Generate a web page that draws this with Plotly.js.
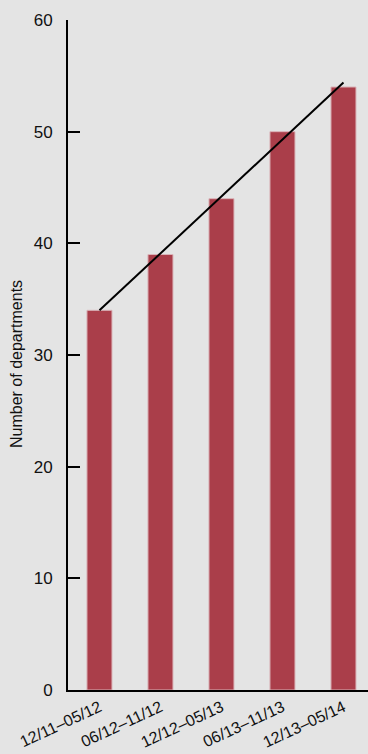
<!DOCTYPE html>
<html>
<head>
<meta charset="utf-8">
<script src="https://cdn.plot.ly/plotly-3.0.1.min.js"></script>
<style>
  html, body { margin: 0; padding: 0; background: #e4e4e4; }
  #chart { width: 368px; height: 754px; }
</style>
</head>
<body>
<div id="chart"></div>
<script>
// Reporting periods and number of departments per period
const periods = ['12/11\u201305/12', '06/12\u201311/12', '12/12\u201305/13', '06/13\u201311/13', '12/13\u201305/14'];
const departments = [34, 39, 44, 50, 54];
const yTicks = [0, 10, 20, 30, 40, 50, 60];

// Least-squares trend across the periods
function linearTrend(values) {
  const n = values.length;
  const xs = values.map((_, i) => i);
  const mx = xs.reduce((a, b) => a + b, 0) / n;
  const my = values.reduce((a, b) => a + b, 0) / n;
  let num = 0, den = 0;
  xs.forEach((x, i) => { num += (x - mx) * (values[i] - my); den += (x - mx) * (x - mx); });
  const slope = num / den;
  return xs.map(x => my + slope * (x - mx));
}
const trend = linearTrend(departments);

const fontFamily = '"Liberation Sans", Arial, sans-serif';
const yTickFont = { family: fontFamily, size: 17, color: '#111' };
const xTickFont = { family: fontFamily, size: 16, color: '#111' };

const bars = {
  type: 'bar',
  x: periods,
  y: departments,
  width: 0.41,
  marker: { color: '#aa3e4a', line: { color: '#d9b2b7', width: 1 } },
  hoverinfo: 'x+y'
};

const trendLine = {
  type: 'scatter',
  mode: 'lines',
  x: [periods[0], periods[periods.length - 1]],
  y: [trend[0], trend[trend.length - 1]],
  line: { color: '#000', width: 2 },
  hoverinfo: 'skip'
};

const layout = {
  width: 368,
  height: 754,
  paper_bgcolor: '#e4e4e4',
  plot_bgcolor: '#e4e4e4',
  showlegend: false,
  margin: { l: 68, r: 0, t: 20, b: 64, autoexpand: false },
  xaxis: {
    type: 'category',
    range: [-0.516, 4.402],
    showline: true,
    linecolor: '#000',
    linewidth: 2,
    ticks: '',
    tickangle: -25,
    tickfont: xTickFont,
    ticklabelstandoff: 0,
    showgrid: false,
    zeroline: false,
    automargin: false
  },
  yaxis: {
    range: [0, 60],
    tickvals: yTicks,
    ticktext: yTicks.map(String),
    showline: true,
    linecolor: '#000',
    linewidth: 2,
    ticks: 'inside',
    ticklen: 12,
    tickwidth: 2,
    tickcolor: '#000',
    tickfont: yTickFont,
    ticklabelstandoff: 10,
    showgrid: false,
    zeroline: false,
    automargin: false
  },
  annotations: [{
    text: 'Number of departments',
    textangle: -90,
    xref: 'paper', yref: 'paper',
    x: -0.17, y: 0.4866,
    xanchor: 'center', yanchor: 'middle',
    showarrow: false,
    font: { family: fontFamily, size: 16, color: '#111' }
  }]
};

Plotly.newPlot('chart', [bars, trendLine], layout, { displayModeBar: false, staticPlot: true });
</script>
</body>
</html>
